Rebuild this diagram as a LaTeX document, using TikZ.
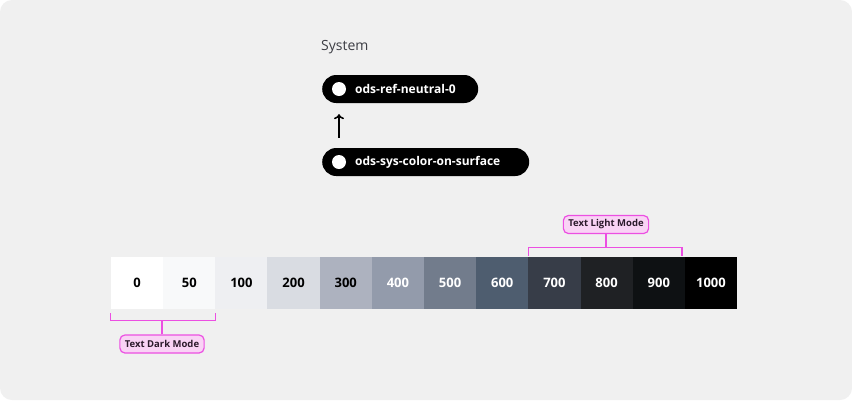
\documentclass[tikz,border=0pt]{standalone}
\usepackage{fontspec}
\setmainfont{Open Sans}
\usetikzlibrary{positioning,arrows.meta}
\definecolor{bg}{HTML}{F0F0F0}
\definecolor{sysgray}{HTML}{3C3D44}
\definecolor{magenta}{HTML}{EC4FE2}
\definecolor{pinkfill}{HTML}{F9D3F5}
\definecolor{pinktext}{HTML}{2B1A2B}
\tikzset{
  pill/.style={fill=black,rounded corners=14pt,minimum height=28pt,inner sep=0pt,anchor=west},
  dot/.style={circle,fill=white,minimum size=14pt,inner sep=0pt},
  pilltext/.style={text=white,font=\bfseries\fontsize{12}{14}\selectfont,anchor=west,inner sep=0pt},
  tile/.style={minimum width=52.2pt,minimum height=52pt,inner sep=0pt,font=\bfseries\fontsize{13}{15}\selectfont},
  brk/.style={draw=magenta,line width=1.2pt},
  callout/.style={draw=magenta,fill=pinkfill,line width=1.2pt,rounded corners=5pt,text=pinktext,
    font=\bfseries\fontsize{9.5}{12}\selectfont,minimum height=18pt,inner xsep=5pt}
}
\begin{document}
\begin{tikzpicture}[x=1pt,y=-1pt]
	\fill[white] (0,0) rectangle (852,400);
	\fill[bg,rounded corners=12pt] (0,0) rectangle (852,400);
	\useasboundingbox (0,0) rectangle (852,400);
	% system pills
	\node[anchor=west,inner sep=0pt,text=sysgray,font=\fontsize{14}{16}\selectfont] (sys) at (321,47) {System};
	\node[pill,minimum width=156pt] (ref) at (322,89) {};
	\node[dot] (refdot) at ([xshift=17pt]ref.west) {};
	\node[pilltext] at ([xshift=33pt]ref.west) {ods-ref-neutral-0};
	\node[pill,minimum width=207pt] (surf) at (322,162) {};
	\node[dot] (surfdot) at ([xshift=17pt]surf.west) {};
	\node[pilltext] at ([xshift=33pt]surf.west) {ods-sys-color-on-surface};
	\draw[line width=1.5pt,-{To[length=5pt,width=10pt]}] ([yshift=10pt]surfdot |- surf.north) -- ([yshift=-11pt]refdot |- ref.south);
	% tiles
	\foreach \v/\c/\t [count=\i] in {0/FFFFFF/black,50/F8F9FA/black,100/EEEFF2/black,200/D9DCE2/black,
	    300/ADB2BF/black,400/939BAB/white,500/727C8C/white,600/4E5D6F/white,
	    700/373D48/white,800/1F2124/white,900/0E1113/white,1000/000000/white}{
		\definecolor{tc}{HTML}{\c}
		\node[tile,fill=tc,text=\t] (t\i) at ({111+52.17*(\i-1)+26.08},283) {\v};
	}
	% dark mode bracket
	\node[callout] (dark) at (162,344) {Text Dark Mode};
	\draw[brk] ([yshift=-4pt]t1.south west) -- ++(0,7) coordinate (dl) -| ([yshift=-4pt]t2.south east);
	\draw[brk] (dark.north) -- (dark.north |- dl);
	% light mode bracket
	\node[callout] (light) at (606,224.5) {Text Light Mode};
	\draw[brk] ([yshift=1pt]t9.north west) -- ++(0,-8) coordinate (ll) -| ([xshift=-3pt,yshift=1pt]t11.north east);
	\draw[brk] (light.south) -- (light.south |- ll);
\end{tikzpicture}
\end{document}
